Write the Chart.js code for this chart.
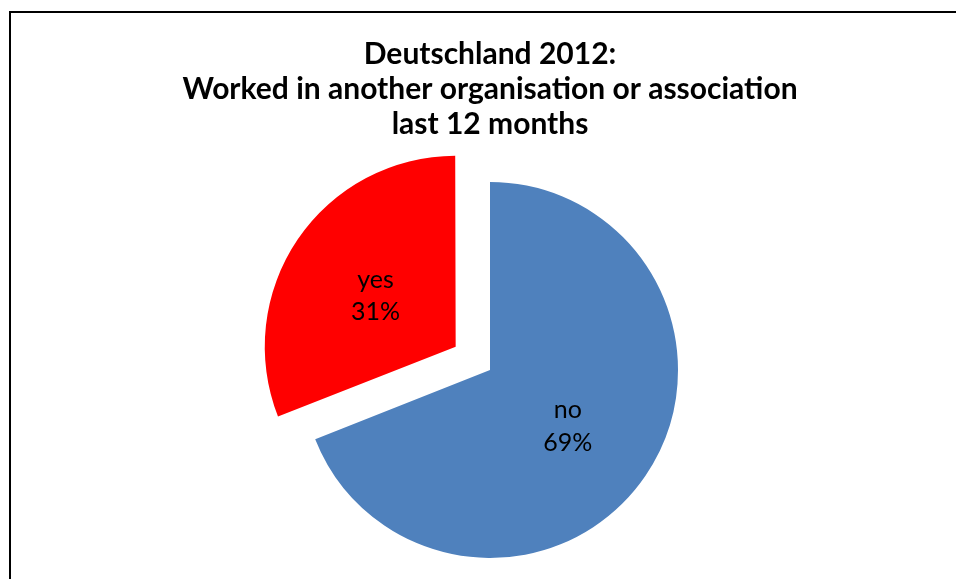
<!DOCTYPE html>
<html>
<head>
<meta charset="utf-8">
<script src="https://cdn.jsdelivr.net/npm/chart.js@4.4.1/dist/chart.umd.min.js"></script>
<style>
  html, body { margin: 0; padding: 0; background: #fff; overflow: hidden; }
  #frame { position: absolute; left: 9px; top: 11px; width: 958px; height: 620px;
           border: 2px solid #000; background: #fff; }
  #frame canvas { display: block; }
</style>
</head>
<body>
<div id="frame"><canvas id="c" width="958" height="620"></canvas></div>
<script>
// ---- data ----
const categories = ["no", "yes"];
const shares = [69, 31];
const shareLabels = ["69%", "31%"];
const titleLines = ["Deutschland 2012:", "Worked in another organisation or association", "last 12 months"];

// Chart.js shifts an arc by offset/4 * (1 + fix); this reproduces that displacement for the labels
function arcShift(arc) {
  const off = (arc.options.offset || 0) / 4;
  const fix = 1 - Math.sin(Math.min(Math.PI, arc.circumference || 0));
  return off + off * fix;
}

const sliceLabelPlugin = {
  id: 'sliceLabels',
  afterDatasetsDraw(chart) {
    const ctx = chart.ctx;
    const meta = chart.getDatasetMeta(0);
    ctx.save();
    ctx.fillStyle = '#000';
    ctx.font = '25px Lato';
    ctx.textAlign = 'center';
    ctx.textBaseline = 'alphabetic';
    meta.data.forEach((arc, i) => {
      const p = arc.getProps(['x', 'y', 'startAngle', 'endAngle', 'outerRadius']);
      const mid = (p.startAngle + p.endAngle) / 2;
      const d = arcShift(arc) + p.outerRadius / 2;
      const cx = p.x + Math.cos(mid) * d;
      const cy = p.y + Math.sin(mid) * d;
      ctx.fillText(categories[i], cx, cy - 4.5);
      ctx.fillText(shareLabels[i], cx, cy + 28);
    });
    ctx.restore();
  }
};

new Chart(document.getElementById('c'), {
  type: 'pie',
  data: {
    labels: categories,
    datasets: [{
      data: shares,
      backgroundColor: ["#4F81BD", "#FF0000"],
      borderWidth: 0,
      offset: [0, 166],
      hoverOffset: 0
    }]
  },
  options: {
    responsive: false,
    animation: false,
    radius: 188,
    layout: { padding: { top: 0, left: 0, right: 0, bottom: 45 } },
    plugins: {
      legend: { display: false },
      tooltip: { enabled: false },
      title: {
        display: true,
        text: titleLines,
        color: '#000',
        font: { family: 'Lato', size: 30, weight: 'bold', lineHeight: 1.1667 },
        padding: { top: 24, bottom: 10 }
      }
    }
  },
  plugins: [sliceLabelPlugin]
});
</script>
</body>
</html>
